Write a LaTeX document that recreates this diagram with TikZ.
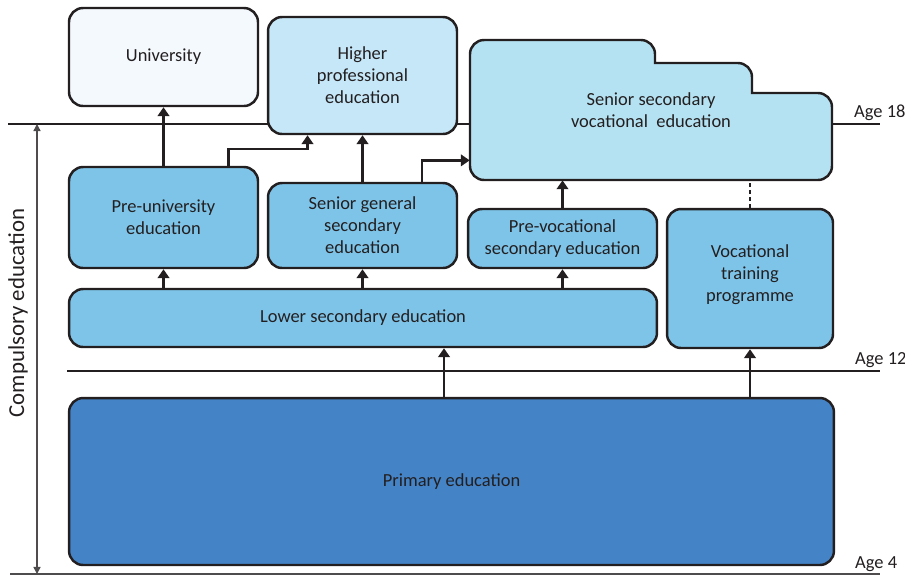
\documentclass[tikz,border=0pt]{standalone}
\usepackage{fontspec}
\setmainfont{Carlito}
\usetikzlibrary{positioning, arrows.meta, calc}

\definecolor{ink}{HTML}{231F20}
\definecolor{uniblue}{HTML}{F4F9FE}
\definecolor{hpeblue}{HTML}{C5E7F8}
\definecolor{vocblue}{HTML}{B4E2F2}
\definecolor{midblue}{HTML}{7EC4E8}
\definecolor{primblue}{HTML}{4383C6}

\begin{document}
\begin{tikzpicture}
        [x=0.02cm, y=-0.02cm,
         every node/.style={font=\fontsize{10.5}{12.5}\selectfont, text=ink, align=center},
         box/.style={draw=ink, line width=1.4pt, rounded corners=8pt, fill=midblue},
         agelabel/.style={anchor=base west},
         ageline/.style={draw=ink, line width=1.2pt},
         link/.style={draw=ink, line width=1.4pt},
         >={Triangle[length=5pt, width=6.5pt]}]
        \useasboundingbox (0,0) rectangle (905,576);

        % age lines
        \draw[ageline] (8,124) -- (880,124);
        \draw[ageline] (67,371) -- (880,371);
        \draw[draw=ink!80, line width=0.8pt] (10,574) -- (880,574);
        \node[agelabel] (a18) at (848,117) {Age 18};
        \node[agelabel] (a12) at (849,364) {Age 12};
        \node[agelabel] (a4) at (849,568) {Age 4};

        % compulsory education
        \coordinate (ctop) at (37,124);
        \coordinate (cbot) at (37,574);
        \draw[draw=ink!80, line width=0.8pt, {Triangle[length=4pt, width=4pt]}-{Triangle[length=4pt, width=4pt]}] (ctop) -- (cbot);
        \node[rotate=90, font=\fontsize{13}{15}\selectfont] (comp) at (18,313) {Compulsory education};

        % boxes
        \node[box, fill=uniblue, minimum width=3.78cm, minimum height=1.96cm] (uni) at (163.5,57) {University};
        \node[box, fill=hpeblue, minimum width=3.78cm, minimum height=2.34cm] (hpe) at (362.5,75.5) {Higher\\professional\\education};
        \draw[box, fill=vocblue, rounded corners=0pt] (470,110) [rounded corners=8pt] -- (470,40) -- (655,40) [sharp corners] -- (655,63) [rounded corners=8pt] -- (752,63) [sharp corners] -- (752,93) [rounded corners=8pt] -- (832,93) -- (832,180) -- (470,180) -- cycle;
        \node[minimum width=7.24cm, minimum height=2.8cm] (svoc) at (651,110) {Senior secondary\\vocational\ \ education};
        \node[box, minimum width=3.78cm, minimum height=2.02cm] (preuni) at (163.5,217.5) {Pre-university\\education};
        \node[box, minimum width=3.78cm, minimum height=1.70cm] (sgen) at (362.5,225.5) {Senior general\\secondary\\education};
        \node[box, minimum width=3.78cm, minimum height=1.18cm] (prevoc) at (562.5,238.5) {Pre-vocational\\secondary education};
        \node[box, minimum width=3.32cm, minimum height=2.78cm, text depth=0.2cm] (vtp) at (750,278.5) {Vocational\\training\\programme};
        \node[box, minimum width=11.76cm, minimum height=1.16cm] (lsec) at (363,318) {Lower secondary education};
        \node[box, fill=primblue, minimum width=15.3cm, minimum height=3.34cm] (prim) at (451.5,481.5) {Primary education};

        % connectors
        \draw[link, ->] (preuni.north) -- (uni.south);
        \draw[link, ->] ($(preuni.north)+(65,0)$) -- ++(0,-17) -| ($(hpe.south)+(-55,0)$);
        \draw[link, ->] (sgen.north) -- (hpe.south);
        \draw[link, ->] ($(sgen.north)+(59.5,0)$) |- ($(svoc.south west)+(0,-20)$);
        \draw[link, ->] (prevoc.north) -- (prevoc.north |- svoc.south);
        \draw[link, dash pattern=on 2.2pt off 1.7pt] (vtp.north) -- (vtp.north |- svoc.south);
        \draw[link, ->] (preuni.south |- lsec.north) -- (preuni.south);
        \draw[link, ->] (sgen.south |- lsec.north) -- (sgen.south);
        \draw[link, ->] (prevoc.south |- lsec.north) -- (prevoc.south);
        \draw[link, ->] ($(prim.north)+(-7.5,0)$) -- ($(lsec.south)+(81,0)$);
        \draw[link, ->] (vtp.south |- prim.north) -- (vtp.south);
    \end{tikzpicture}
\end{document}
